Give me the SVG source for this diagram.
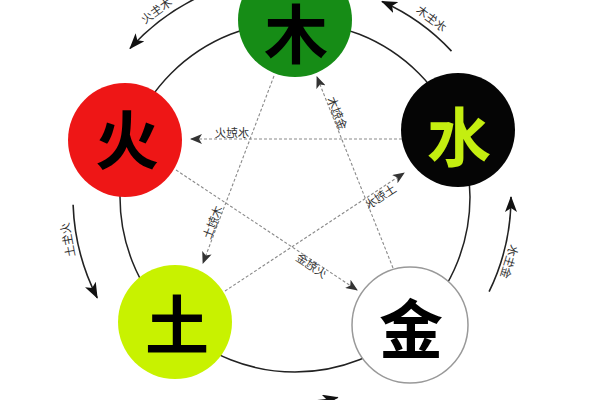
<svg xmlns="http://www.w3.org/2000/svg" width="600" height="400" viewBox="0 0 600 400">
<style>
.big{font-family:"Noto Sans CJK SC","Noto Sans CJK JP",sans-serif;font-weight:700;font-size:64px;text-anchor:middle;dominant-baseline:central}
.lab{font-family:"Noto Sans CJK SC","Noto Sans CJK JP",sans-serif;font-size:11.5px;fill:#333;text-anchor:middle;dominant-baseline:central}
.arc{fill:none;stroke:#222;stroke-width:1.6;marker-end:url(#ah)}
.dash{fill:none;stroke:#8a8a8a;stroke-width:1.1;stroke-dasharray:3 2;marker-end:url(#dh)}
</style>
<defs>
<marker id="ah" viewBox="0 0 16 12" refX="15" refY="6" markerWidth="16" markerHeight="12" markerUnits="userSpaceOnUse" orient="auto">
<path d="M0,0 L16,6 L0,12 L4,6 Z" fill="#111"/>
</marker>
<marker id="dh" viewBox="0 0 12 10" refX="11" refY="5" markerWidth="12" markerHeight="10" markerUnits="userSpaceOnUse" orient="auto">
<path d="M0,0 L12,5 L0,10 L3,5 Z" fill="#333"/>
</marker>
</defs>
<rect width="600" height="400" fill="#fff"/>
<circle cx="295" cy="197" r="175" fill="none" stroke="#222" stroke-width="1.5"/>
<g id="connectors">
<path class="arc" d="M201.2,-4.2 A222,222 0 0 0 130,48.5"/>
<path class="arc" d="M451.5,51.1 A214,214 0 0 0 382,1.5"/>
<path class="arc" d="M73.1,204.7 A222,222 0 0 0 97.2,297.8"/>
<path class="arc" d="M489.1,291.7 A216,216 0 0 0 511,197"/>
<path class="arc" d="M287.8,401.9 A205,205 0 0 0 337.6,397.5"/>
<path class="dash" d="M402,139 L191,139"/>
<path class="dash" d="M274,76 L203,263"/>
<path class="dash" d="M393,268 L317,77"/>
<path class="dash" d="M176,170 L357,290"/>
<path class="dash" d="M225,291 L404,173"/>
<text class="lab" transform="translate(156,10) rotate(-36) scale(-1,1)">木生火</text>
<text class="lab" transform="translate(432,18) rotate(37) scale(-1,1)">水生木</text>
<text class="lab" transform="translate(67,240) rotate(-101) scale(-1,1)">火生土</text>
<text class="lab" transform="translate(510,262) rotate(107) scale(-1,1)">金生水</text>
<text class="lab" transform="translate(232,132) scale(-1,1)">水尅火</text>
<text class="lab" transform="translate(212,222) rotate(-69) scale(-1,1)">木尅土</text>
<text class="lab" transform="translate(338,113) rotate(68) scale(-1,1)">金尅木</text>
<text class="lab" transform="translate(312,265) rotate(33.5) scale(-1,1)">火尅金</text>
<text class="lab" transform="translate(380,196) rotate(-33.4) scale(-1,1)">土尅水</text>
</g>
<g id="wood">
<circle cx="295" cy="20" r="57" fill="#168c16"/>
<text class="big" x="296" y="30" fill="#000">木</text>
</g>
<g id="fire">
<circle cx="125" cy="140" r="57" fill="#ee1616"/>
<text class="big" x="127" y="136" fill="#000">火</text>
</g>
<g id="water">
<circle cx="458" cy="130" r="57" fill="#050505"/>
<text class="big" x="459" y="133" fill="#c4ee10">水</text>
</g>
<g id="earth">
<circle cx="175" cy="322" r="57" fill="#c8f200"/>
<text class="big" x="177" y="321" fill="#000">土</text>
</g>
<g id="metal">
<circle cx="410" cy="325" r="58" fill="#fff" stroke="#999" stroke-width="1.5"/>
<text class="big" x="411" y="325" fill="#000">金</text>
</g>
</svg>
